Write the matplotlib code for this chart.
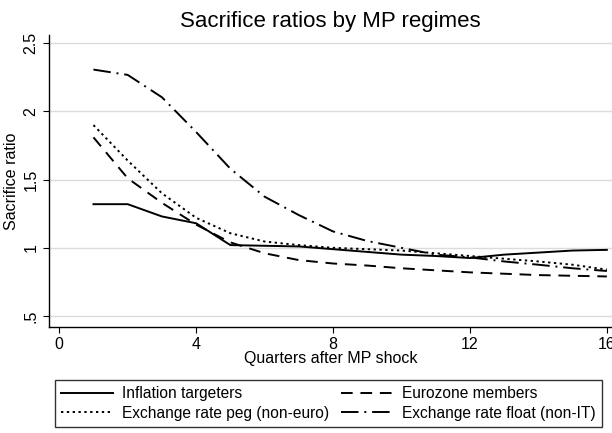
import matplotlib
matplotlib.use("Agg")
import matplotlib.pyplot as plt

plt.rcParams['font.family'] = ['Liberation Sans', 'DejaVu Sans']

## Data

quarters = list(range(1, 17))
inflation_targeters = [1.32, 1.32, 1.23, 1.18, 1.02, 1.015, 1.01, 0.99,
                       0.97, 0.95, 0.94, 0.925, 0.95, 0.965, 0.98, 0.985]
eurozone = [1.81, 1.51, 1.33, 1.17, 1.04, 0.96, 0.91, 0.885,
            0.87, 0.85, 0.835, 0.82, 0.81, 0.80, 0.795, 0.79]
peg = [1.90, 1.64, 1.40, 1.22, 1.107, 1.046, 1.02, 1.0,
       0.99, 0.98, 0.96, 0.94, 0.92, 0.90, 0.876, 0.84]
float_nonit = [2.307, 2.268, 2.104, 1.849, 1.58, 1.375, 1.24, 1.12,
               1.05, 1.0, 0.95, 0.93, 0.90, 0.876, 0.85, 0.83]

y_ticks = [0.5, 1, 1.5, 2, 2.5]
y_labels = ['.5', '1', '1.5', '2', '2.5']
x_ticks = [0, 4, 8, 12, 16]

## Figure

fig = plt.figure(figsize=(6.12, 4.33), dpi=100)
ax = fig.add_axes([0.080, 0.245, 0.92, 0.674])

l_it, = ax.plot(quarters, inflation_targeters, color='black', lw=1.4, ls='-')
l_ez, = ax.plot(quarters, eurozone, color='black', lw=1.4, ls=(0, (6, 4)))
l_peg, = ax.plot(quarters, peg, color='black', lw=1.4, ls=(0, (1.2, 1.8)))
l_fl, = ax.plot(quarters, float_nonit, color='black', lw=1.4, ls=(0, (9, 3, 1, 3)))

ax.set_xlim(-0.3, 16.15)
ax.set_ylim(0.42, 2.56)
ax.set_xticks(x_ticks)
ax.set_yticks(y_ticks)
ax.set_yticklabels(y_labels, rotation=90, va='center')
ax.tick_params(labelsize=11.5, length=4, color='black')
ax.grid(axis='y', color='#dcdcdc', lw=1)
ax.set_axisbelow(True)
for s in ['top', 'right']:
    ax.spines[s].set_visible(False)
for s in ['left', 'bottom']:
    ax.spines[s].set_linewidth(1)

ax.set_xlabel('Quarters after MP shock', fontsize=11.5, labelpad=-1)
ax.set_ylabel('Sacrifice ratio', fontsize=11.5, labelpad=3)
ax.set_title('Sacrifice ratios by MP regimes', fontsize=16, pad=6)

# column-wise fill: row 1 = IT, Eurozone ; row 2 = peg, float
handles = [l_it, l_peg, l_ez, l_fl]
labels = ['Inflation targeters', 'Exchange rate peg (non-euro)',
          'Eurozone members', 'Exchange rate float (non-IT)']
leg = fig.legend(handles, labels, loc='upper left',
                 bbox_to_anchor=(55 / 612, 1 - 380 / 433),
                 ncol=2, fontsize=11.2, frameon=True, fancybox=False,
                 handlelength=3.3, borderaxespad=0, columnspacing=0.8,
                 handletextpad=0.6, labelspacing=0.3, borderpad=0.4)
leg.get_frame().set_edgecolor('black')
leg.get_frame().set_linewidth(1)

fig.savefig('out.png', dpi=100)
